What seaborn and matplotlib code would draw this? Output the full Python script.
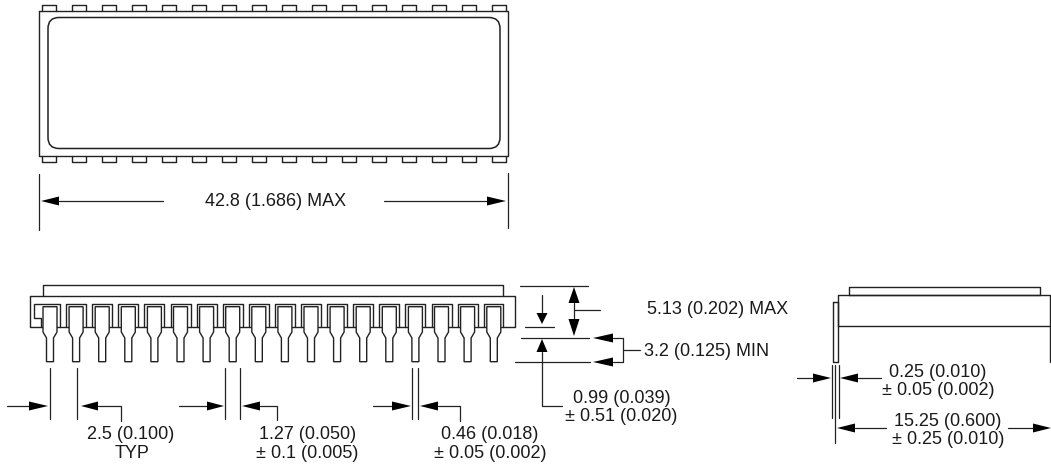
import pandas as pd
import matplotlib.pyplot as plt
from matplotlib.patches import FancyBboxPatch
import seaborn as sns

# everything is in reference pixels, y going down
top_tab_x = [42, 72, 102, 132, 162, 192, 222, 252, 282, 312, 342, 372, 402, 432, 462, 492]
pin_x = [50, 76.1, 102.2, 128.3, 154.4, 180.5, 206.6, 232.7, 258.8, 284.9, 311,
         337.1, 363.2, 389.3, 415.4, 441.5, 467.6, 493.8]

# plain lines: (xs, ys)
outline = [
    ([39, 508, 508, 39, 39], [10.5, 10.5, 156, 156, 10.5]),
    # front view
    ([29.5, 514.5, 514.5, 29.5, 29.5], [295.5, 295.5, 327, 327, 295.5]),
    ([43, 43, 503, 503], [295.5, 285, 285, 295.5]),
    # side view
    ([837.5, 837.5, 1050, 1050], [326, 295, 295, 362]),
    ([837.5, 1050], [326, 326]),
    ([849, 849, 1039.5, 1039.5, 849], [295, 286.5, 286.5, 295, 295]),
    ([833, 838, 838, 833, 833], [302, 302, 362, 362, 302]),
]

leaders = [
    ([38.5, 38.5], [174, 229.5]), ([508.3, 508.3], [173, 228]),
    ([59, 163], [201, 201]), ([384, 487], [201, 201]),
    # lead pitch
    ([50, 50], [368, 419]), ([76.5, 76.5], [368, 419]),
    ([7, 29], [406, 406]), ([98, 121, 121], [406, 406, 421]),
    ([225, 225], [368, 419]), ([239.7, 239.7], [368, 419]),
    ([179, 207], [406, 406]), ([260, 277, 277], [406, 406, 420]),
    ([411.7, 411.7], [368, 419]), ([418.3, 418.3], [368, 419]),
    ([373, 392], [406, 406]), ([438, 460, 460], [406, 406, 421]),
    # heights
    ([520, 588], [286, 286]), ([525, 554], [327, 327]),
    ([521, 589], [338, 338]), ([515, 590], [362, 362]),
    ([574, 574], [303, 319]), ([574, 600], [310, 310]),
    ([542, 542], [295, 313]), ([542, 542, 562], [352, 406, 406]),
    ([613, 623, 623, 613], [338, 338, 362, 362]), ([623, 640], [350, 350]),
    # side view dims
    ([831.7, 831.7], [365, 418]), ([839, 839], [365, 418]), ([835.3, 835.3], [365, 443]),
    ([797, 813], [378, 378]), ([858, 881], [378, 378]),
    ([855, 886], [428, 428]), ([1008, 1033], [428, 428]),
]

# arrow heads: tip, base along the direction, other axis, 'h' or 'v'
heads = [
    (41, 59, 201, 'h'), (506, 487, 201, 'h'),
    (48, 29, 406, 'h'), (81, 98, 406, 'h'),
    (224, 207, 406, 'h'), (242, 260, 406, 'h'),
    (411, 392, 406, 'h'), (420, 438, 406, 'h'),
    (287, 303, 574, 'v'), (336, 319, 574, 'v'),
    (324, 313, 542, 'v'), (339, 352, 542, 'v'),
    (593, 613, 338, 'h'), (593, 613, 362, 'h'),
    (831, 813, 378, 'h'), (840, 858, 378, 'h'),
    (837, 855, 428, 'h'), (1051, 1033, 428, 'h'),
]

labels = [
    (275.5, 201.5, '42.8 (1.686) MAX'),
    (131, 434.5, '2.5 (0.100)'), (132, 453.5, 'TYP'),
    (308, 434.5, '1.27 (0.050)'), (307, 453.5, '± 0.1 (0.005)'),
    (490, 434.5, '0.46 (0.018)'), (490, 453.5, '± 0.05 (0.002)'),
    (622, 398.5, '0.99 (0.039)'), (621, 416.5, '± 0.51 (0.020)'),
    (718, 309.5, '5.13 (0.202) MAX'), (706.5, 351.5, '3.2 (0.125) MIN'),
    (938, 372.5, '0.25 (0.010)'), (938, 390.5, '± 0.05 (0.002)'),
    (948, 421.5, '15.25 (0.600)'), (948, 439.5, '± 0.25 (0.010)'),
]

ink = '#222222'
sns.set_style('white')
plt.rcParams['font.family'] = ['Liberation Sans', 'DejaVu Sans']


def to_frame(paths):
    rows = []
    for i, (xs, ys) in enumerate(paths):
        for j in range(len(xs)):
            rows.append({'seg': i, 'order': j, 'x': xs[j], 'y': ys[j]})
    return pd.DataFrame(rows)


def draw(paths, z=2, lw=1.0):
    sns.lineplot(data=to_frame(paths), x='x', y='y', units='seg', estimator=None, sort=False,
                 color=ink, lw=lw, legend=False, zorder=z, ax=ax)


fig = plt.figure(figsize=(10.51, 4.66), dpi=100)
ax = fig.add_axes([0, 0, 1, 1])

# top view tabs
tabs = []
for x in top_tab_x:
    tabs.append(([x, x, x + 13.5, x + 13.5], [10.5, 5, 5, 10.5]))
    tabs.append(([x, x, x + 13.5, x + 13.5], [156, 162, 162, 156]))

# sockets of the front view
sockets = [([41, 41, 33.5, 33.5, 60, 60], [327, 318, 318, 304, 304, 327])]
for x in pin_x[1:-1]:
    sockets.append(([x - 10, x - 10, x + 10, x + 10], [327, 304, 304, 327]))
sockets.append(([484, 484, 503, 503], [327, 304, 304, 327]))

draw(outline + tabs + sockets)
draw(leaders, lw=0.9)

ax.add_patch(FancyBboxPatch((48, 17.5), 452, 131, boxstyle='round,pad=0,rounding_size=11',
                            fc='none', ec=ink, lw=1.1))

for x in pin_x:
    ax.fill([x - 7, x + 7, x + 7, x + 3.5, x + 3.5, x - 3.5, x - 3.5, x - 7],
            [306.7, 306.7, 332, 338, 361.7, 361.7, 338, 332],
            fc='white', ec=ink, lw=1.0, zorder=3)

for tip, base, other, way in heads:
    if way == 'h':
        ax.fill([tip, base, base], [other, other - 4.5, other + 4.5], color='black', lw=0, zorder=4)
    else:
        ax.fill([other, other - 5.5, other + 5.5], [tip, base, base], color='black', lw=0, zorder=4)

for x, y, s in labels:
    ax.text(x, y, s, ha='center', va='center', fontsize=13, color='#1a1a1a')

ax.set_xlim(0, 1051)
ax.set_ylim(466, 0)
ax.axis('off')
fig.savefig('out.png', dpi=100, facecolor='white')
